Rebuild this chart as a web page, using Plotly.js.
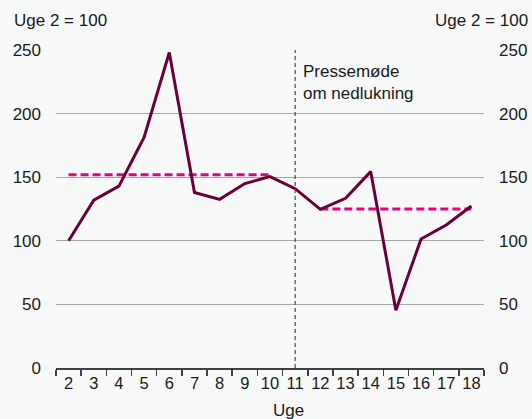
<!DOCTYPE html>
<html><head><meta charset="utf-8">
<script src="https://cdn.plot.ly/plotly-3.0.1.min.js"></script>
<style>html,body{margin:0;padding:0;background:#f7f9f9;}</style>
</head><body><div id="chart" style="width:532px;height:419px;"></div>
<script>
const weeks = ['2','3','4','5','6','7','8','9','10','11','12','13','14','15','16','17','18'];
const values = [100,132,143,181.5,248,138,132.6,145,150.5,141,124.7,133.4,154.4,45.4,101.4,112.4,127.4];
const avgBeforeWeeks = ['2','3','4','5','6','7','8','9','10'];
const avgBefore = [152,152,152,152,152,152,152,152,152];
const avgAfterWeeks = ['12','13','14','15','16','17','18'];
const avgAfter = [125,125,125,125,125,125,125];
const pressWeek = '11';
const yTicks = [0,50,100,150,200,250];
const indexLabel = 'Uge 2 = 100';
const xTitle = 'Uge';
const pressText = 'Pressemøde<br>om nedlukning';

const font = {family:'Liberation Sans, Arial, sans-serif', size:17, color:'#1a1a1a'};
const X0 = 56, X1 = 484, Y0 = 368, Y1 = 50;
const px = v => (v - X0)/(X1 - X0);
const py = v => (Y0 - v)/(Y0 - Y1);
const pressIdx = weeks.indexOf(pressWeek);

const traces = [
  {x: avgBeforeWeeks, y: avgBefore, type:'scatter', mode:'lines', line:{color:'#e6007e', width:3, dash:'8px,4px'}, hoverinfo:'skip'},
  {x: avgAfterWeeks, y: avgAfter, type:'scatter', mode:'lines', line:{color:'#e6007e', width:3, dash:'8px,4px'}, hoverinfo:'skip'},
  {x: weeks, y: values, type:'scatter', mode:'lines', line:{color:'#6b0039', width:3}},
  {x: weeks, y: values, type:'scatter', mode:'lines', yaxis:'y2', line:{color:'rgba(0,0,0,0)', width:0}, hoverinfo:'skip'}
];

const layout = {
  width:532, height:419,
  margin:{l:X0, r:532-X1, t:Y1, b:419-Y0, pad:0},
  paper_bgcolor:'#f7f9f9', plot_bgcolor:'#f7f9f9',
  showlegend:false,
  font: font,
  xaxis:{type:'category', categoryorder:'array', categoryarray:weeks, tickson:'boundaries', ticks:'outside', ticklen:6, tickwidth:1.5, tickcolor:'#404040',
    showline:true, linecolor:'#404040', linewidth:1.5, showgrid:false, zeroline:false, tickfont:{size:16.5}, tickangle:0, range:[-0.5,16.5], fixedrange:true},
  yaxis:{range:[0,250], tickvals:yTicks, ticks:'', showgrid:true, gridcolor:'#a6a6a6', gridwidth:1, zeroline:false, showline:false,
    ticklabelstandoff:14, tickfont:{size:17}, fixedrange:true},
  yaxis2:{range:[0,250], tickvals:yTicks, overlaying:'y', side:'right', ticks:'', showgrid:false, zeroline:false, showline:false,
    ticklabelstandoff:14, tickfont:{size:17}, fixedrange:true},
  shapes:[{type:'line', xref:'x', yref:'y', x0:pressIdx, x1:pressIdx, y0:0, y1:250, line:{color:'#555555', width:1.3, dash:'4px,3px'}}],
  annotations:[
    {text:indexLabel, xref:'paper', yref:'paper', x:px(12), y:py(20), xanchor:'left', yanchor:'middle', showarrow:false, font:{size:17}},
    {text:indexLabel, xref:'paper', yref:'paper', x:px(530), y:py(20), xanchor:'right', yanchor:'middle', showarrow:false, font:{size:17}},
    {text:pressText, xref:'paper', yref:'paper', x:px(301), y:py(60), xanchor:'left', yanchor:'top', align:'left', showarrow:false, font:{size:17}},
    {text:xTitle, xref:'paper', yref:'paper', x:px(288), y:py(410), xanchor:'center', yanchor:'middle', showarrow:false, font:{size:17}}
  ]
};
Plotly.newPlot('chart', traces, layout, {displayModeBar:false, staticPlot:true});
</script></body></html>
